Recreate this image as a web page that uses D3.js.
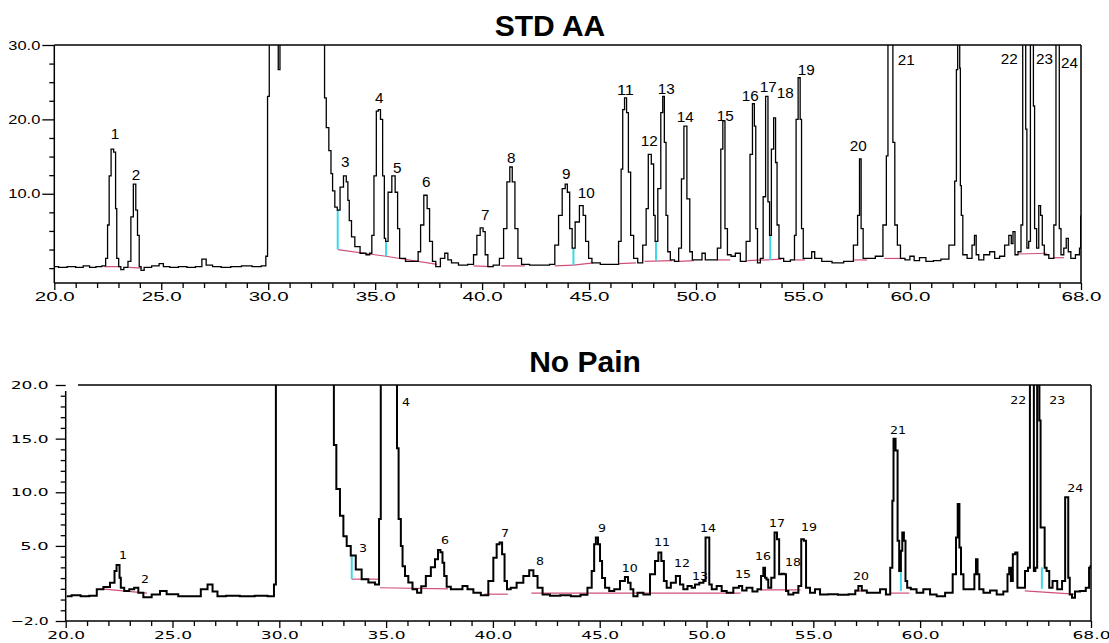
<!DOCTYPE html>
<html><head><meta charset="utf-8">
<script src="https://cdn.jsdelivr.net/npm/d3@7"></script>
<style>
html,body{margin:0;padding:0;background:#fff;}
svg{display:block;}
</style></head>
<body>
<svg id="chart" width="1109" height="643"></svg>
<script>
// ---------- DATA ----------
const topTitle = "STD AA";
const bottomTitle = "No Pain";

const topTime = [20.00,20.40,20.80,21.20,21.50,21.80,22.10,22.35,22.45,22.53,22.60,22.71,22.84,22.89,22.95,23.07,23.15,23.35,23.54,23.62,23.77,23.85,23.93,24.01,24.10,24.30,24.80,25.00,25.20,25.60,26.00,26.40,26.80,27.00,27.20,27.60,28.00,28.50,29.00,29.50,29.85,29.93,30.01,30.09,30.45,30.49,30.53,30.57,32.61,32.66,32.77,32.90,32.97,33.05,33.18,33.28,33.44,33.60,33.70,33.75,33.83,33.96,34.14,34.45,34.69,34.80,34.89,35.00,35.11,35.19,35.31,35.39,35.47,35.51,35.70,35.86,36.01,36.09,36.20,36.64,36.95,37.07,37.18,37.37,37.49,37.60,37.76,37.91,38.19,38.32,38.48,38.66,39.13,39.52,39.68,39.83,39.99,40.10,40.19,40.35,40.69,40.93,41.08,41.24,41.35,41.47,41.60,41.75,41.94,42.50,43.00,43.30,43.50,43.65,43.84,43.93,44.04,44.15,44.27,44.43,44.67,44.78,44.90,45.06,45.21,45.84,46.30,46.46,46.54,46.61,46.71,46.80,46.88,47.01,47.16,47.39,47.63,47.71,47.83,47.99,48.05,48.13,48.30,48.41,48.48,48.56,48.64,48.72,48.88,49.11,49.27,49.37,49.50,49.65,49.77,49.89,50.20,50.36,50.51,50.90,51.10,51.22,51.29,51.42,51.52,51.76,51.92,52.23,52.46,52.59,52.69,52.77,52.82,52.93,53.09,53.19,53.32,53.41,53.47,53.58,53.68,53.76,53.82,53.94,54.26,54.57,54.64,54.72,54.83,54.91,54.96,55.07,55.35,55.47,55.63,56.13,56.59,57.22,57.50,57.61,57.68,57.76,57.87,58.15,58.62,58.86,58.94,59.01,59.17,59.24,59.35,59.48,59.64,59.90,60.10,60.30,60.60,60.90,61.30,61.60,62.05,62.14,62.21,62.26,62.32,62.34,62.38,62.43,62.52,62.83,62.98,63.06,63.14,63.30,63.61,63.85,64.08,64.31,64.55,64.70,64.78,64.86,64.97,65.14,65.25,65.30,65.40,65.43,65.51,65.60,65.67,65.76,65.79,65.87,65.98,66.07,66.15,66.23,66.34,66.65,66.81,66.85,66.96,67.01,67.12,67.27,67.35,67.46,67.59,67.89,67.97,68.00];
const topSignal = [0.2,0.1,0.2,0.1,0.3,0.1,0.2,0.3,1.3,5.8,12.4,16.0,15.6,8.0,1.3,0.2,-0.2,0.1,0.9,6.9,11.3,7.8,4.4,0.2,-0.3,0.1,0.3,0.6,0.2,0.1,0.2,0.1,0.2,1.2,0.4,0.2,0.1,0.2,0.3,0.2,0.3,1.6,23.1,34,34,26.7,26.7,34,34,22.9,18.9,15.8,12.7,10.4,8.2,7.8,10.9,12.4,11.6,9.1,6.4,4.2,2.9,2.0,1.8,2.0,4.4,12.4,21.1,21.3,20.0,12.4,4.0,3.6,10.2,12.4,10.2,5.3,1.3,0.9,0.9,2.2,5.8,9.8,8.0,3.6,0.9,0.2,1.3,2.0,1.1,0.7,0.4,0.5,1.8,4.4,5.4,4.9,1.8,0.2,0.4,1.3,5.3,11.6,13.6,11.6,5.3,1.3,0.5,0.4,0.4,0.5,3.1,7.1,10.7,11.3,10.2,5.3,2.7,6.2,8.4,7.1,3.6,1.3,0.7,0.5,0.5,3.6,13.3,21.3,22.9,20.9,12.9,4.4,1.3,0.7,3.1,8.0,15.3,14.0,7.1,3.6,10.7,20.9,23.1,16.9,7.1,2.2,1.1,0.9,2.7,12.0,19.1,9.3,2.2,1.1,1.1,2.0,1.1,1.1,2.7,16.0,19.8,5.3,1.8,1.6,2.0,0.9,3.6,15.3,22.1,19.1,5.3,0.7,1.3,9.6,23.1,8.9,4.4,16.0,20.2,14.2,5.8,1.3,0.9,1.1,4.4,20.0,25.6,20.0,5.3,1.3,1.3,2.2,1.3,0.9,0.7,0.9,3.1,7.1,14.7,5.3,1.3,1.3,1.6,5.8,15.1,34,34,16.9,5.8,3.1,1.3,1.1,1.6,1.0,1.4,0.9,1.0,1.2,3.1,11.7,26.7,34,34,26.9,11.1,7.1,1.8,1.3,3.1,4.4,1.8,1.1,1.8,2.2,1.3,1.6,3.1,4.4,3.3,4.9,1.8,2.2,5.8,34,34,18.7,2.7,3.6,34,34,21.8,5.3,2.7,8.4,7.1,3.1,1.8,1.3,5.8,34,34,5.3,1.8,2.7,4.0,2.2,1.3,1.8,2.7,7.0];

const bottomTime = [20.05,20.50,20.90,21.30,21.61,21.92,22.23,22.34,22.42,22.50,22.54,22.62,22.86,23.09,23.32,23.48,23.79,24.26,24.57,24.88,25.66,26.13,26.52,26.76,26.99,27.22,27.80,28.50,29.20,29.70,29.80,29.88,32.53,32.58,32.76,32.92,33.08,33.23,33.46,33.70,34.01,34.33,34.63,34.71,34.79,35.50,35.52,35.65,35.73,35.81,35.96,36.12,36.35,36.55,36.74,36.98,37.21,37.37,37.49,37.60,37.68,37.76,37.91,38.15,38.46,38.69,38.93,39.24,39.63,39.94,40.10,40.25,40.37,40.49,40.60,40.72,40.95,41.27,41.58,41.82,41.97,42.21,42.44,42.90,43.40,43.90,44.30,44.55,44.70,44.78,44.86,44.98,45.05,45.17,45.33,45.56,45.80,46.10,46.26,46.39,46.50,46.65,46.89,47.20,47.51,47.67,47.82,47.95,48.06,48.21,48.45,48.68,48.84,48.99,49.23,49.38,49.54,49.78,49.93,49.98,50.09,50.17,50.32,50.63,50.79,51.10,51.41,51.62,51.72,52.03,52.27,52.50,52.61,52.71,52.77,52.85,52.93,53.13,53.24,53.36,53.44,53.60,53.69,53.75,53.91,54.22,54.38,54.49,54.63,54.69,55.00,55.16,55.47,55.90,56.40,56.90,57.03,57.19,57.35,57.66,57.97,58.28,58.52,58.68,58.72,58.79,58.91,58.98,59.06,59.14,59.19,59.29,59.34,59.45,59.68,59.99,60.31,60.62,60.93,61.41,61.64,61.72,61.80,61.88,61.95,62.11,62.50,62.58,62.65,62.73,62.81,63.12,63.43,63.74,64.05,64.13,64.21,64.29,64.39,64.52,64.59,64.83,64.99,65.11,65.17,65.31,65.34,65.45,65.51,65.57,65.60,65.68,65.81,65.85,65.99,66.10,66.30,66.54,66.75,66.83,66.91,66.96,67.05,67.17,67.33,67.64,67.87,67.95,68.00];
const bottomSignal = [0.3,0.4,0.3,0.35,0.95,1.16,1.57,2.66,3.22,3.22,2.03,1.1,0.8,0.95,1.1,0.64,0.22,0.47,0.8,0.5,0.3,0.3,0.95,1.41,0.75,0.3,0.35,0.3,0.35,0.3,1.41,25,25,14.4,10.3,7.8,5.9,5.0,4.1,2.8,1.9,1.6,1.4,7.5,25,25,14.1,7.5,5.0,3.1,2.2,1.6,0.95,0.63,1.25,2.2,3.0,3.76,4.63,4.4,3.44,2.2,1.2,0.95,0.95,1.26,0.95,0.63,0.41,1.72,3.9,5.16,5.31,4.22,1.72,0.95,1.1,1.57,2.2,2.73,2.2,1.1,0.47,0.35,0.4,0.3,0.45,1.1,2.66,5.16,5.78,5.16,3.6,2.0,1.1,0.8,0.95,1.72,2.1,1.57,0.95,0.3,0.63,0.47,2.35,3.6,4.38,3.6,1.72,1.1,1.57,2.2,1.41,0.95,1.26,1.1,1.41,1.57,1.72,5.78,5.78,1.41,0.95,1.26,0.8,0.63,1.1,1.26,0.85,1.1,0.75,0.95,2.2,2.97,2.04,1.88,1.1,2.04,6.25,5.63,2.35,2.4,2.35,0.8,0.47,0.63,1.26,5.63,5.47,1.1,0.63,0.95,0.47,0.5,0.45,0.5,0.85,1.26,0.85,0.63,0.63,0.95,0.47,2.97,9.2,15.0,13.9,5.47,2.66,4.54,6.25,5.47,1.72,1.1,0.95,0.63,0.95,0.47,0.3,0.63,2.35,5.78,8.9,4.85,2.35,0.95,0.95,2.35,3.76,2.35,0.95,0.63,0.85,0.47,0.75,2.35,2.97,1.72,4.22,4.38,1.1,1.1,2.66,2.97,25,25,2.66,2.97,25,25,16.7,6.72,6.72,2.97,2.66,1.1,1.72,0.95,1.72,9.53,9.53,2.04,0.47,0.16,0.75,0.8,1.1,2.97,3.1];

// peak labels (anchor time, anchor signal)
const topPeakIds    = ["1","2","3","4","5","6","7","8","9","10","11","12","13","14","15","16","17","18","19","20","21","22","23","24"];
const topPeakTime   = [22.84,23.82,33.60,35.19,36.03,37.39,40.15,41.36,43.93,44.87,46.70,47.82,48.61,49.50,51.37,52.54,53.38,54.17,55.15,57.59,59.83,64.65,66.29,67.46];
const topPeakSignal = [18.0,12.5,14.3,22.9,13.5,11.6,7.1,14.8,12.7,10.1,24.0,17.1,24.1,20.3,20.4,23.2,24.4,23.6,26.7,16.4,28.0,28.1,28.1,27.6];

const bottomPeakIds    = ["1","2","3","4","6","7","8","9","10","11","12","13","14","15","16","17","18","19","20","21","22","23","24"];
const bottomPeakTime   = [22.68,23.71,33.92,35.93,37.76,40.57,42.21,45.11,46.41,47.92,48.85,49.69,50.07,51.71,52.65,53.30,54.05,54.80,57.23,58.96,64.59,66.42,67.26];
const bottomPeakSignal = [4.07,1.91,4.72,18.41,5.47,6.13,3.51,6.60,2.94,5.29,3.32,2.19,6.60,2.38,3.97,7.07,3.41,6.69,2.19,15.78,18.59,18.59,10.35];

// integration baselines [t1, v1, t2, v2] and drop lines [t, vLow, vHigh]
const topBaselines = [[22.35,0.2,23.1,0.2],[23.5,0.1,24.1,0.0],[33.25,2.5,35.5,1.6],[35.5,1.6,37.9,0.5],[39.6,0.3,40.4,0.2],[40.9,0.3,42.0,0.3],[43.4,0.3,44.27,0.4],[44.27,0.4,45.2,0.7],[46.4,0.6,47.2,0.7],[47.6,0.9,48.9,1.0],[49.2,0.9,49.9,1.0],[51.0,1.1,51.6,1.1],[52.4,1.0,54.0,1.2],[54.6,1.1,55.1,1.1],[57.4,1.1,58.0,1.1],[58.8,1.3,59.7,1.3],[65.1,1.9,66.4,2.0],[66.7,1.4,67.2,1.4]];
const topDrops = [[33.25,2.5,7.8],[35.51,1.6,3.6],[44.27,0.4,2.7],[48.13,1.0,3.6],[53.47,1.1,4.4]];
const bottomBaselines = [[21.7,1.0,23.8,0.6],[33.39,1.9,34.71,1.9],[34.71,1.1,37.9,1.0],[39.6,0.5,40.7,0.5],[41.8,0.6,51.6,0.6],[52.5,0.9,54.4,0.9],[57.0,0.8,57.4,0.8],[58.6,0.6,59.5,0.6],[64.9,0.8,67.2,0.5]];
const bottomDrops = [[33.39,1.9,4.1],[59.1,0.8,2.7],[65.7,1.0,3.0]];

// axes tick values
const xMajorTicks = [20,25,30,35,40,45,50,55,60,68];
const topYMajor = [30,20,10];
const topYMinor = [27.5,25,22.5,17.5,15,12.5,7.5,5,2.5,0];
const bottomYMajor = [20,15,10,5,-2];

// ---------- DRAW ----------
const svg = d3.select("#chart");
const fmt = d3.format(".1f");
const xMinor = d3.range(21,68).filter(v => !xMajorTicks.includes(v));
const bottomYMinor = d3.range(-1,20).filter(v => !bottomYMajor.includes(v));

function panel(cfg){
  const x = d3.scaleLinear().domain([20,68]).range(cfg.xr);
  const y = d3.scaleLinear().domain(cfg.yd).range(cfg.yr);
  const g = svg.append("g");
  const id = "clip" + cfg.name;
  svg.append("clipPath").attr("id", id).append("rect")
    .attr("x", cfg.xr[0]).attr("y", cfg.yr[1]).attr("width", cfg.xr[1]-cfg.xr[0]).attr("height", cfg.yr[0]-cfg.yr[1]);

  // title
  g.append("text").attr("x", cfg.titleX).attr("y", cfg.titleY).attr("text-anchor","middle")
    .attr("font-family","Liberation Sans, Arial, sans-serif").attr("font-weight","bold")
    .attr("font-size", 30).text(cfg.title);

  // integration marks
  const marks = g.append("g").attr("clip-path", `url(#${id})`);
  marks.selectAll("line.bl").data(cfg.baselines).join("line").attr("class","bl")
    .attr("x1", d=>x(d[0])).attr("y1", d=>y(d[1])).attr("x2", d=>x(d[2])).attr("y2", d=>y(d[3]))
    .attr("stroke", "#d0507a").attr("stroke-width", 1.2);
  marks.selectAll("line.dr").data(cfg.drops).join("line").attr("class","dr")
    .attr("x1", d=>x(d[0])).attr("y1", d=>y(d[1])).attr("x2", d=>x(d[0])).attr("y2", d=>y(d[2]))
    .attr("stroke", "#40d8e8").attr("stroke-width", 2);

  // trace
  const pts = cfg.time.map((t,i)=>[t, cfg.signal[i]]);
  g.append("path").datum(pts).attr("clip-path", `url(#${id})`)
    .attr("fill","none").attr("stroke","#000").attr("stroke-width", cfg.lw).attr("stroke-linejoin","miter")
    .attr("d", d3.line().x(d=>x(d[0])).y(d=>y(d[1])).curve(d3.curveStep));

  // frame
  const fr = g.append("g").attr("stroke","#000").attr("stroke-width",1.5);
  fr.append("line").attr("x1", cfg.topLineStart).attr("x2", cfg.xr[1]).attr("y1", cfg.yr[1]).attr("y2", cfg.yr[1]);
  fr.append("line").attr("x1", cfg.xr[1]).attr("x2", cfg.xr[1]).attr("y1", cfg.yr[1]).attr("y2", cfg.yr[0]);
  fr.append("line").attr("x1", cfg.xr[0]).attr("x2", cfg.xr[0]).attr("y1", cfg.leftAxisTop).attr("y2", cfg.yr[0]);
  fr.append("line").attr("x1", cfg.xr[0]).attr("x2", cfg.xr[1]).attr("y1", cfg.yr[0]).attr("y2", cfg.yr[0]);

  const font = cfg.tickFont;
  // x axis
  const xa = g.append("g").attr("transform", `translate(0,${cfg.yr[0]})`)
    .call(d3.axisBottom(x).tickValues(xMajorTicks).tickSize(7).tickPadding(cfg.xPad).tickFormat(fmt));
  const xm = g.append("g").attr("transform", `translate(0,${cfg.yr[0]})`)
    .call(d3.axisBottom(x).tickValues(xMinor).tickSize(5).tickFormat(""));
  // y axis
  const ya = g.append("g").attr("transform", `translate(${cfg.xr[0]},0)`)
    .call(d3.axisLeft(y).tickValues(cfg.yMajor).tickSize(cfg.yMajorLen).tickPadding(cfg.yPad).tickFormat(fmt));
  const ym = g.append("g").attr("transform", `translate(${cfg.xr[0]},0)`)
    .call(d3.axisLeft(y).tickValues(cfg.yMinor).tickSize(5).tickFormat(""));
  [xa,xm,ya,ym].forEach(a => {
    a.select(".domain").remove();
    a.selectAll("line").attr("stroke","#000").attr("stroke-width",1.3);
    a.selectAll("text").attr("font-family", font).attr("font-size", cfg.tickSize).attr("fill","#000")
      .attr("lengthAdjust","spacingAndGlyphs");
  });
  xa.selectAll("text").attr("textLength", d => fmt(d).length * cfg.xCharW);
  ya.selectAll("text").attr("textLength", d => fmt(d).length * cfg.yCharW);
  if (cfg.hideFirstYTick) ya.selectAll(".tick").filter(d => d === cfg.yd[1]).select("line").attr("x1", -10).attr("x2", -3);

  // peak labels
  g.selectAll("text.pk").data(cfg.ids).join("text").attr("class","pk")
    .attr("x", (d,i)=>x(cfg.ptime[i])).attr("y", (d,i)=>y(cfg.psig[i]))
    .attr("text-anchor","middle").attr("dominant-baseline","central")
    .attr("font-family", cfg.peakFont).attr("font-size", cfg.peakSize)
    .attr("textLength", d => d.length * cfg.peakCharW).attr("lengthAdjust","spacingAndGlyphs")
    .attr("fill","#000").text(d=>d);
}

panel({name:"top", xr:[54.3,1081], yd:[-2,30], yr:[283,45],
  title: topTitle, titleX: 550, titleY: 36,
  time: topTime, signal: topSignal, lw: 1.3,
  baselines: topBaselines, drops: topDrops,
  topLineStart: 54.3, leftAxisTop: 45,
  tickFont: "Liberation Sans, Arial, sans-serif", tickSize: 13, xPad: 2, xCharW: 10, yCharW: 8,
  yMajor: topYMajor, yMinor: topYMinor, yMajorLen: 12, yPad: 2,
  ids: topPeakIds, ptime: topPeakTime, psig: topPeakSignal,
  peakFont: "Liberation Sans, Arial, sans-serif", peakSize: 14, peakCharW: 8.5});

panel({name:"bottom", xr:[65.7,1091], yd:[-2,20], yr:[621,385],
  title: bottomTitle, titleX: 585, titleY: 372,
  time: bottomTime, signal: bottomSignal, lw: 2,
  baselines: bottomBaselines, drops: bottomDrops,
  topLineStart: 78, leftAxisTop: 391,
  tickFont: "DejaVu Sans, sans-serif", tickSize: 11, xPad: 3, xCharW: 9.5, yCharW: 9.5,
  yMajor: bottomYMajor, yMinor: bottomYMinor, yMajorLen: 10, yPad: 7,
  ids: bottomPeakIds, ptime: bottomPeakTime, psig: bottomPeakSignal,
  peakFont: "DejaVu Sans, sans-serif", peakSize: 11, peakCharW: 8});
</script>
</body></html>
